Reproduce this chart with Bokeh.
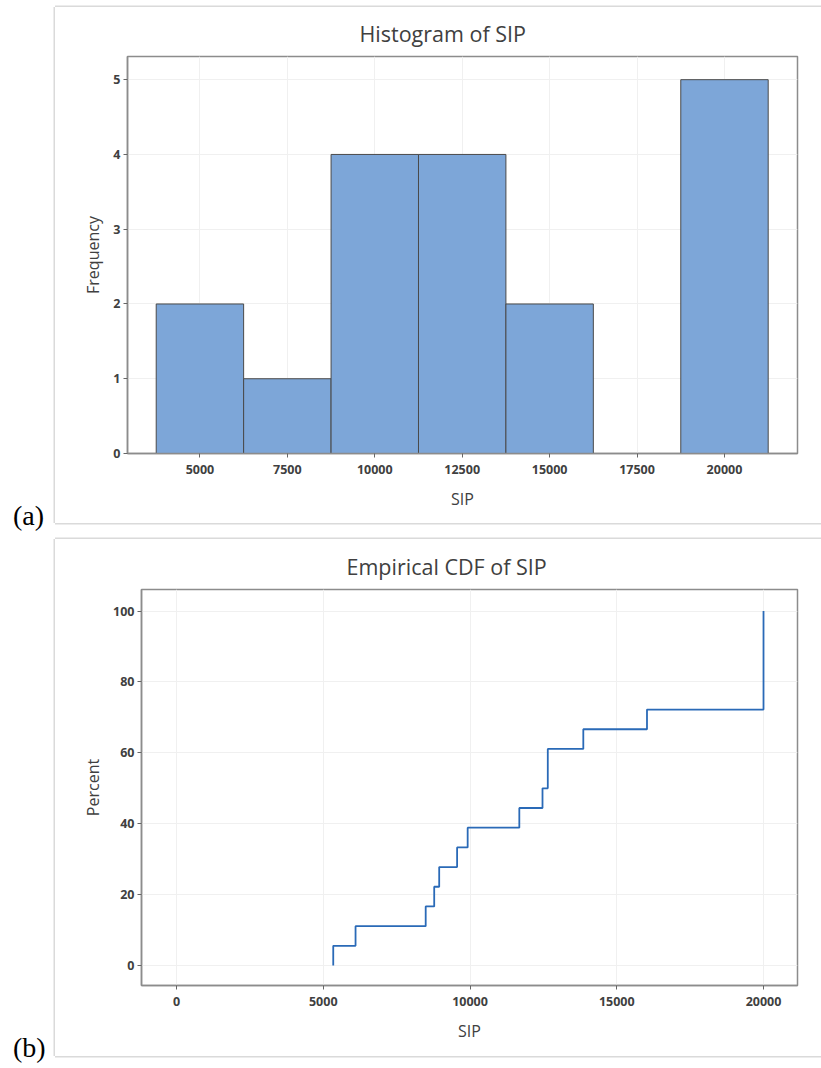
import numpy as np
from bokeh.plotting import figure
from bokeh.models import Range1d, FixedTicker, Div
from bokeh.layouts import column, row
from bokeh.embed import file_html
from bokeh.resources import INLINE

# SIP observations, sorted (18 values)
sip = [5340, 6100, 8490, 8780, 8950, 9560, 9920, 11680, 12470, 12650, 12650,
       13860, 16030, 20000, 20000, 20000, 20000, 20000]

# Histogram bins (midpoints, common width) and their frequencies
bin_mids = [5000, 7500, 10000, 12500, 15000, 17500, 20000]
bin_width = 2500
frequency = [2, 1, 4, 4, 2, 0, 5]

hist_xticks = [5000, 7500, 10000, 12500, 15000, 17500, 20000]
hist_yticks = [0, 1, 2, 3, 4, 5]
cdf_xticks = [0, 5000, 10000, 15000, 20000]
cdf_yticks = [0, 20, 40, 60, 80, 100]

FONT = "Open Sans"
TEXT = "#404040"
FRAME = "#8c8c8c"
GRID = "#f0f0f0"
PANEL_EDGE = "#dadada"
# light rule on the left, top and bottom of each panel (drawn outside the box)
PANEL_STYLE = {"box-shadow": f"-1.5px 0 0 {PANEL_EDGE}, 0 -1.5px 0 {PANEL_EDGE}, 0 1.5px 0 {PANEL_EDGE}"}


def style(p, xticks, yticks, xlabel, ylabel, title_offset):
    p.outline_line_color = FRAME
    p.outline_line_width = 1.5
    for ax in (p.xaxis[0], p.yaxis[0]):
        ax.axis_line_color = FRAME
        ax.axis_line_width = 1.5
        ax.major_tick_line_color = "#666666"
        ax.major_tick_out = 4
        ax.major_tick_in = 0
        ax.minor_tick_line_color = None
        ax.major_label_text_font = FONT
        ax.major_label_text_font_size = "12.5px"
        ax.major_label_text_font_style = "bold"
        ax.major_label_text_color = "#404040"
        ax.axis_label_text_font = FONT
        ax.axis_label_text_font_size = "16px"
        ax.axis_label_text_font_style = "normal"
        ax.axis_label_text_color = TEXT
    p.xaxis.ticker = FixedTicker(ticks=xticks)
    p.yaxis.ticker = FixedTicker(ticks=yticks)
    p.xaxis.axis_label = xlabel
    p.yaxis.axis_label = ylabel
    p.xaxis.axis_label_standoff = 11
    p.yaxis.axis_label_standoff = 6
    p.xaxis.major_label_standoff = 7
    p.yaxis.major_label_standoff = 3
    p.xgrid.ticker = FixedTicker(ticks=xticks)
    p.ygrid.ticker = FixedTicker(ticks=yticks)
    p.xgrid.grid_line_color = GRID
    p.ygrid.grid_line_color = GRID
    p.background_fill_color = "white"
    p.border_fill_color = "white"
    p.title.text_font = FONT
    p.title.text_font_size = "21.5px"
    p.title.text_font_style = "normal"
    p.title.text_color = TEXT
    p.title.align = "left"
    p.title.offset = title_offset
    p.title.standoff = 18


def tag(text, top, height):
    html = (f'<div style="margin-top:{top}px; margin-left:13px; '
            f'font-family:\'Liberation Serif\'; font-size:28px; line-height:28px; '
            f'color:black;">{text}</div>')
    return Div(text=html, width=55, height=height, margin=(0, 0, 0, 0))


# (a) Histogram
p1 = figure(title="Histogram of SIP", frame_width=670, frame_height=397,
            min_border_left=72, min_border_right=24,
            min_border_top=49, min_border_bottom=70,
            x_range=Range1d(2929, 22088), y_range=Range1d(0, 5.31),
            margin=(7, 0, 8, 0), styles=PANEL_STYLE,
            output_backend="svg", toolbar_location=None)
p1.vbar(x=bin_mids, top=frequency, width=bin_width, bottom=0,
        fill_color="#7da6d8", line_color="#4a4a4a", line_width=1)
style(p1, hist_xticks, hist_yticks, "SIP", "Frequency", 232)

# (b) Empirical CDF
vals, counts = np.unique(sip, return_counts=True)
cum_pct = 100.0 * np.cumsum(counts) / len(sip)
step_x = [vals[0]] + list(vals)
step_y = [0.0] + list(cum_pct)

p2 = figure(title="Empirical CDF of SIP", frame_width=656, frame_height=396,
            min_border_left=86, min_border_right=24,
            min_border_top=50, min_border_bottom=71,
            x_range=Range1d(-1193, 21158), y_range=Range1d(-5.64, 106.1),
            margin=(8, 0, 12, 0), styles=PANEL_STYLE,
            output_backend="svg", toolbar_location=None)
p2.step(x=step_x, y=step_y, mode="after", line_color="#2a6ab7", line_width=1.8)
style(p2, cdf_xticks, cdf_yticks, "SIP", "Percent", 205)

layout = column(row(tag("(a)", 502, 531), p1, spacing=0),
                row(tag("(b)", 503, 537), p2, spacing=0), spacing=0)
open("out.html", "w").write(file_html(layout, INLINE))
